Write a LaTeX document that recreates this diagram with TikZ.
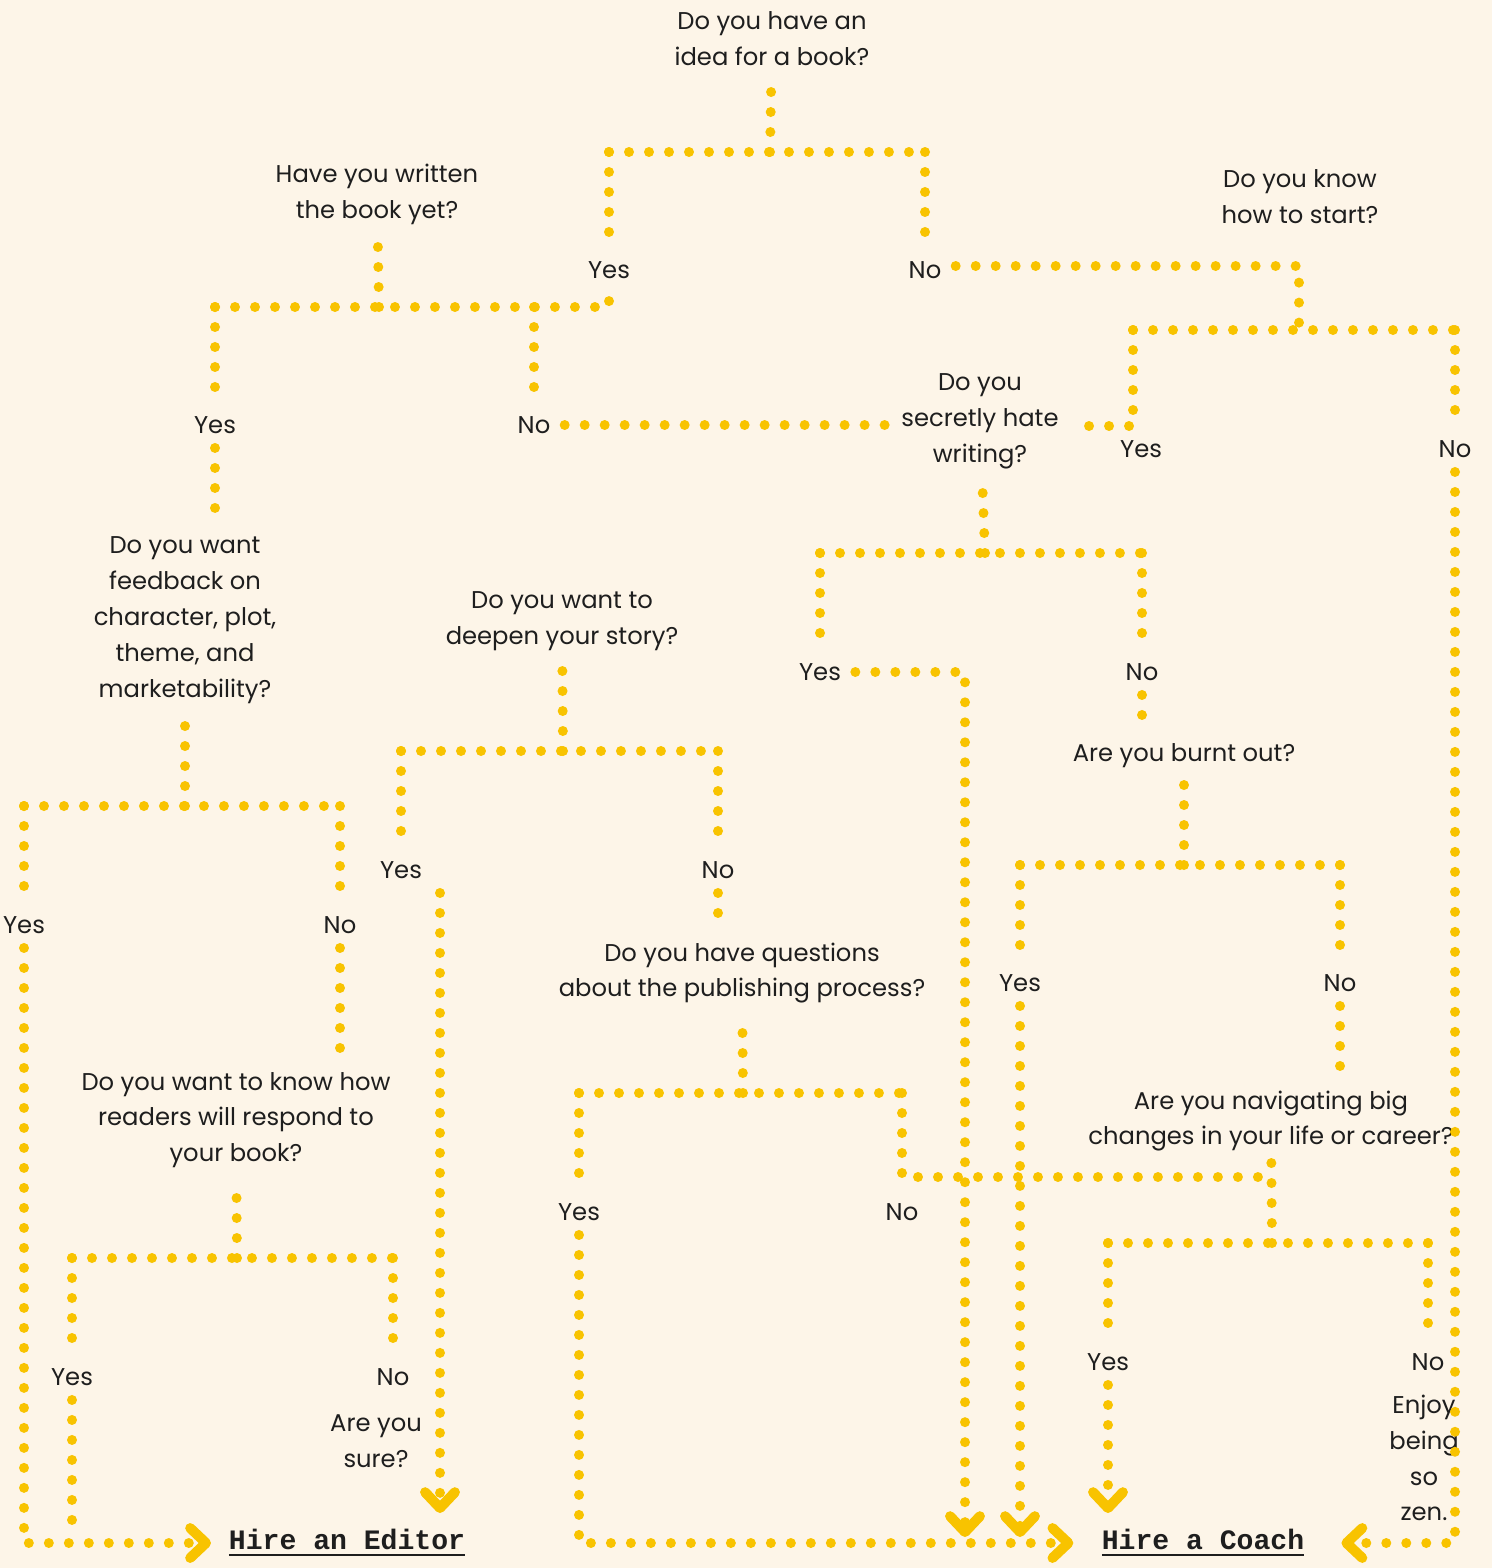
\documentclass[tikz,border=0pt]{standalone}
\usepackage{fontspec}
\setmainfont{Poppins}
\newfontfamily\hirefont{Liberation Mono}
\usetikzlibrary{arrows.meta,calc}
\definecolor{cream}{HTML}{FDF5E8}
\definecolor{dotyellow}{HTML}{F8C300}
\definecolor{ink}{HTML}{1E1E1E}
\newcommand{\clrdot}{dotyellow}
\newcommand{\hireul}[1]{\vtop{\hbox{#1}\kern2pt\hrule height 1.5pt}}

\tikzset{
  dotline/.style={draw=\clrdot, line width=0.2cm, line cap=round, dash pattern=on 0cm off 0.4cm},
  chev/.style={-{Straight Barb[round,length=9pt,width=17pt]}},
  question/.style={text=ink, align=center, font=\fontsize{13.8}{20.4}\selectfont, inner sep=6pt},
  answer/.style={text=ink, font=\fontsize{13.8}{20.4}\selectfont, inner xsep=8pt, inner ysep=8pt},
  hire/.style={text=ink, font=\hirefont\bfseries\fontsize{16}{19}\selectfont, inner sep=1pt}
}

\begin{document}
\begin{tikzpicture}[x=0.02cm, y=-0.02cm]

    \useasboundingbox (0,0) rectangle (1492,1568);
    \fill[cream] (0,0) rectangle (1492,1568);

    \node[question] (q1) at (772,39) {Do you have an\\idea for a book?};
    \node[question] (q2) at (377,194) {Have you written\\the book yet?};
    \node[question] (q3) at (1300,197) {Do you know\\how to start?};
    \node[question] (q4) at (980,421) {Do you\\secretly hate\\writing?};
    \node[question] (q5) at (185,620) {Do you want\\feedback on\\character, plot,\\theme, and\\marketability?};
    \node[question] (q6) at (562,621) {Do you want to\\deepen your story?};
    \node[question] (q7) at (1184,756) {Are you burnt out?};
    \node[question] (q8) at (742,973) {Do you have questions\\about the publishing process?};
    \node[question] (q9) at (236,1120) {Do you want to know how\\readers will respond to\\your book?};
    \node[question] (q10) at (1271,1121) {Are you navigating big\\changes in your life or career?};
    \node[question] (sure) at (376,1441) {Are you\\sure?};
    \node[question] (zen) at (1424,1458) {Enjoy\\being\\so\\zen.};

    \node[answer] (y1) at (609,270) {Yes};
    \node[answer] (n1) at (925,270) {No};
    \node[answer] (y2) at (215,425) {Yes};
    \node[answer] (n2) at (534,425) {No};
    \node[answer] (y3) at (1141,449) {Yes};
    \node[answer] (n3) at (1455,449) {No};
    \node[answer] (y4) at (820,672) {Yes};
    \node[answer] (n4) at (1142,672) {No};
    \node[answer] (y5) at (24,925) {Yes};
    \node[answer] (n5) at (340,925) {No};
    \node[answer] (y6) at (401,870) {Yes};
    \node[answer] (n6) at (718,870) {No};
    \node[answer] (y7) at (1020,983) {Yes};
    \node[answer] (n7) at (1340,983) {No};
    \node[answer] (y8) at (579,1212) {Yes};
    \node[answer] (n8) at (902,1212) {No};
    \node[answer] (y9) at (72,1377) {Yes};
    \node[answer] (n9) at (393,1377) {No};
    \node[answer] (y10) at (1108,1362) {Yes};
    \node[answer] (n10) at (1428,1362) {No};

    \node[hire] (editor) at (347,1543) {\hireul{Hire an Editor}};
    \node[hire] (coach) at (1203,1543) {\hireul{Hire a Coach}};

    \coordinate (f1) at (770,152);
    \coordinate (f2) at (379,307);
    \coordinate (f3) at (1299,330);
    \coordinate (f4) at (985,553);
    \coordinate (f5) at (185,806);
    \coordinate (f6) at (563,751);
    \coordinate (f7) at (1184,865);
    \coordinate (f8) at (743,1093);
    \coordinate (f9) at (237,1258);
    \coordinate (f10) at (1272,1243);
    \coordinate (k3) at (1299,266);
    \coordinate (c3) at (1133,426);
    \coordinate (k8) at (1272,1177);
    \coordinate (ea) at (440,1513);
    \coordinate (ca) at (965,1537);
    \coordinate (cb) at (1020,1537);
    \coordinate (cc) at (1108,1513);
    \coordinate (e9) at (72,1530);

    \draw[dotline] (f1) -- (q1);
    \draw[dotline] (f1 -| y1) -- (f1 -| n1);
    \draw[dotline] (f1 -| y1) -- (y1);
    \draw[dotline] (f1 -| n1) -- (n1);

    \draw[dotline] (f2) -- (q2);
    \draw[dotline] (f2 -| y2) -- (f2 -| y1) -- (y1);
    \draw[dotline] (f2 -| y2) -- (y2);
    \draw[dotline] (f2 -| n2) -- (n2);
    \draw[dotline] (y2) -- (y2 |- q5.north);
    \draw[dotline] (n2) -- (n2 -| q4.west);

    \draw[dotline] (n1.east |- k3) -- (k3) -- (f3);
    \draw[dotline] (f3 -| c3) -- (f3 -| n3);
    \draw[dotline] (f3 -| c3) -- (c3) -- (c3 -| q4.east);
    \draw[dotline] (f3 -| n3) -- (n3);
    \draw[dotline, chev, shorten >=20pt] (n3) -- (n3 |- coach) -- (coach);

    \draw[dotline] (f4) -- (q4);
    \draw[dotline] (f4 -| y4) -- (f4 -| n4);
    \draw[dotline] (f4 -| y4) -- (y4);
    \draw[dotline] (f4 -| n4) -- (n4);
    \draw[dotline, chev] (y4) -- (y4 -| ca) -- (ca);
    \draw[dotline] (n4) -- (n4 |- q7.north);

    \draw[dotline] (f7) -- (q7);
    \draw[dotline] (f7 -| y7) -- (f7 -| n7);
    \draw[dotline] (f7 -| y7) -- (y7);
    \draw[dotline] (f7 -| n7) -- (n7);
    \draw[dotline, chev] (y7) -- (cb);
    \draw[dotline] (n7) -- (n7 |- q10.north);

    \draw[dotline] (f10) -- (q10);
    \draw[dotline] (f10 -| y10) -- (f10 -| n10);
    \draw[dotline] (f10 -| y10) -- (y10);
    \draw[dotline] (f10 -| n10) -- (n10);
    \draw[dotline, chev] (y10) -- (cc);

    \draw[dotline] (f5) -- (q5);
    \draw[dotline] (f5 -| y5) -- (f5 -| n5);
    \draw[dotline] (f5 -| y5) -- (y5);
    \draw[dotline] (f5 -| n5) -- (n5);
    \draw[dotline, chev, shorten >=9pt] (y5) -- (y5 |- editor) -- (editor);
    \draw[dotline] (n5) -- (n5 |- q9.north);

    \draw[dotline] (f9) -- (q9);
    \draw[dotline] (f9 -| y9) -- (f9 -| n9);
    \draw[dotline] (f9 -| y9) -- (y9);
    \draw[dotline] (f9 -| n9) -- (n9);
    \draw[dotline] (y9) -- (e9);

    \draw[dotline] (f6) -- (q6);
    \draw[dotline] (f6 -| y6) -- (f6 -| n6);
    \draw[dotline] (f6 -| y6) -- (y6);
    \draw[dotline] (f6 -| n6) -- (n6);
    \draw[dotline, chev] (ea |- y6.south) -- (ea);
    \draw[dotline] (n6) -- (n6 |- q8.north);

    \draw[dotline] (f8) -- (q8);
    \draw[dotline] (f8 -| y8) -- (f8 -| n8);
    \draw[dotline] (f8 -| y8) -- (y8);
    \draw[dotline] (f8 -| n8) -- (k8 -| n8) -- (k8);
    \draw[dotline, chev, shorten >=15pt] (y8) -- (y8 |- coach) -- (coach);

\end{tikzpicture}
\end{document}
